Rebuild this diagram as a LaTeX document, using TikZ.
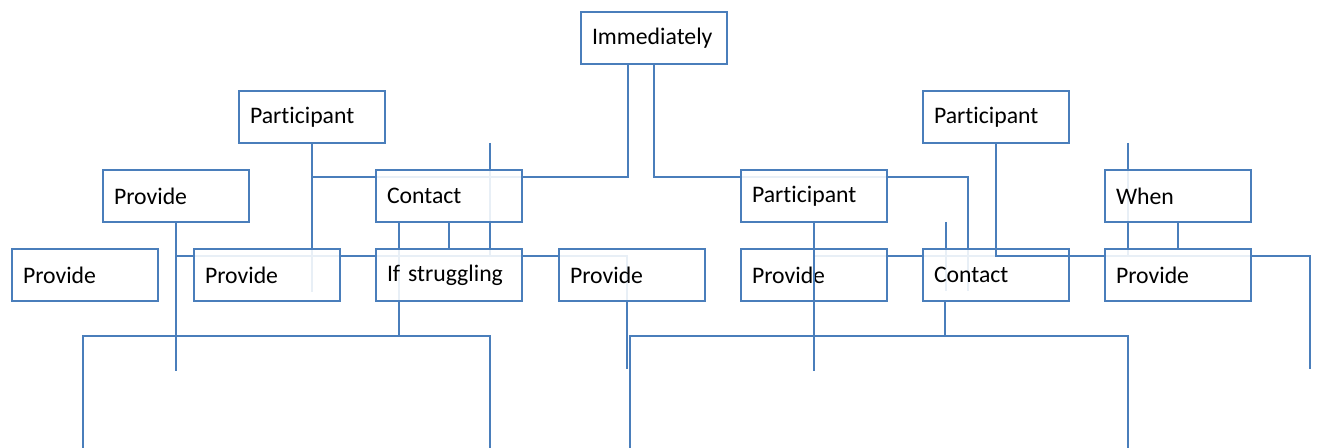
\documentclass[tikz,border=0pt]{standalone}
\usepackage{fontspec}
\setmainfont{Carlito}[Ligatures=NoCommon]
\usetikzlibrary{backgrounds,calc}
\definecolor{ln}{RGB}{74,126,187}
\begin{document}
\begin{tikzpicture}[x=0.75pt,y=-0.75pt,
  conn/.style={draw=ln,line width=1.5pt},
  box/.style={draw=ln,line width=1.5pt,fill=white,fill opacity=0.88,text opacity=1,
    anchor=north west,minimum height=39pt,text width=93pt,inner xsep=8.25pt,inner ysep=0pt,
    align=left,font=\fontsize{17.8}{21}\selectfont}]
\useasboundingbox (0,0) rectangle (1317,448);
% nodes
\node[box] (imm) at (580,11) {Immediately};
\node[box] (partL) at (238,90) {Participant};
\node[box] (partR) at (922,90) {Participant};
\node[box] (provA) at (102,169) {Provide};
\node[box] (contL) at (375,169) {Contact};
\node[box] (partM) at (740,169) {Participant};
\node[box] (when) at (1104,169) {When};
\node[box] (provB) at (11,248) {Provide};
\node[box] (provC) at (193,248) {Provide};
\node[box] (ifs) at (375,248) {If struggling};
\node[box] (provD) at (558,248) {Provide};
\node[box] (provE) at (740,248) {Provide};
\node[box] (contR) at (922,248) {Contact};
\node[box] (provF) at (1104,248) {Provide};
% free ends
\coordinate (b1l) at (83,448);
\coordinate (b1r) at (490,448);
\coordinate (b2l) at (630,448);
\coordinate (b2r) at (1128,448);
% lines behind the boxes
\begin{pgfonlayer}{background}
\draw[conn] (partL.south) -- ++(0,148);
\draw[conn] ($(imm.south)+(-26,0)$) |- (partL.south |- 0,177);
\draw[conn] (imm.south) |- (968,177) -- (968,291);
\draw[conn] (provA.south |- 0,256) -- (627,256) -- (627,369);
\draw[conn] (490,143) -- (490,256);
\draw[conn] ($(contL.south west)+(24,0)$) -- (399,336);
\draw[conn] ($(contR.north west)+(24,-26)$) -- (946,291);
\draw[conn] (partM.south |- 0,256) -- (1310,256) -- (1310,369);
\draw[conn] (1128,143) -- (1128,256);
\end{pgfonlayer}
% lines in front
\draw[conn] (partM.south) -- ++(0,148);
\draw[conn] (partR.south) |- (contR.east |- 0,256);
\draw[conn] (provA.south) -- ++(0,148);
\draw[conn] (contL.south) -- (ifs.north);
\draw[conn] (when.south) -- (provF.north);
\draw[conn] (b1l) |- (b1r |- 0,336) -- (b1r);
\draw[conn] (b2l) |- (b2r |- 0,336) -- (b2r);
\draw[conn] ($(contR.south west)+(23,0)$) -- (945,336);
\end{tikzpicture}
\end{document}
